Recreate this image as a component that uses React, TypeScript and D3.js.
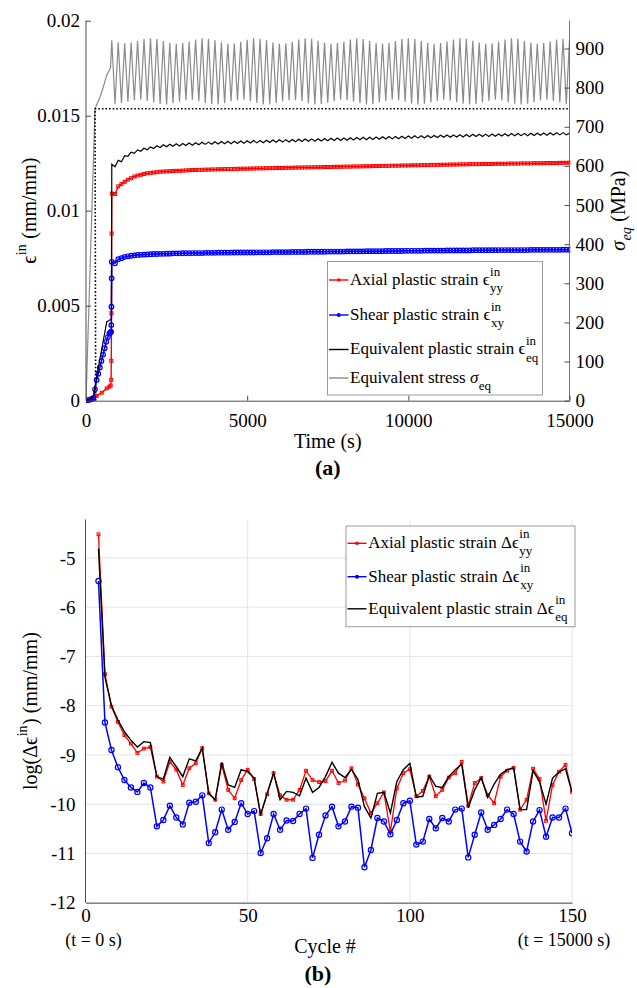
import React, { useEffect, useRef } from "react";
import * as d3 from "d3";

const FONT = "'Liberation Serif','DejaVu Serif','Noto Serif','Times New Roman',serif";

// ---------- (a) top chart data ----------
const timeTicks = [0, 5000, 10000, 15000];
const strainTicks = [0, 0.005, 0.01, 0.015, 0.02];
const strainTickLabels = ["0", "0.005", "0.01", "0.015", "0.02"];
const stressTicks = [0, 100, 200, 300, 400, 500, 600, 700, 800, 900];

// initial loading phase (time in s, strain in 1e-3 mm/mm)
const earlyAxialTime = [0, 100, 230, 330, 488, 643, 726, 766, 780, 785, 790, 795];
const earlyAxialMilli = [0, 0.02, 0.13, 0.25, 0.42, 0.65, 0.74, 0.8, 1.1, 2.1, 4.6, 8.8];
const earlyShearTime = [0, 60, 120, 180, 230, 280, 330, 380, 430, 480, 530, 580, 630, 680, 726, 760, 778, 785, 790, 795];
const earlyShearMilli = [0, 0.02, 0.05, 0.09, 0.15, 0.6, 1.09, 1.42, 1.75, 2.09, 2.43, 2.76, 3.1, 3.35, 3.54, 3.6, 3.63, 3.98, 4.95, 6.44];
const earlyEqTime = [0, 100, 200, 230, 330, 435, 540, 645, 700, 750, 790];
const earlyEqMilli = [0, 0.05, 0.15, 0.25, 1.26, 2.23, 3.19, 4.16, 4.21, 4.26, 4.3];
const earlyStressTime = [0, 280, 435, 539, 643, 726, 760];
const earlyStressMPa = [0, 746, 776, 802, 832, 845, 850];

// cyclic phase, one sample every 100 s from 800 s to 15000 s
const mainAxialMilli = [
  10.90, 10.88, 11.28, 11.40, 11.52, 11.63, 11.71, 11.80, 11.85, 11.89,
  11.93, 11.97, 11.99, 12.01, 12.03, 12.05, 12.06, 12.07, 12.08, 12.09,
  12.10, 12.10, 12.11, 12.12, 12.13, 12.14, 12.14, 12.15, 12.15, 12.16,
  12.16, 12.17, 12.17, 12.18, 12.18, 12.19, 12.19, 12.19, 12.20, 12.20,
  12.21, 12.21, 12.21, 12.22, 12.22, 12.23, 12.23, 12.23, 12.24, 12.24,
  12.24, 12.25, 12.25, 12.25, 12.26, 12.26, 12.26, 12.27, 12.27, 12.27,
  12.28, 12.28, 12.28, 12.29, 12.29, 12.29, 12.30, 12.30, 12.30, 12.31,
  12.31, 12.31, 12.32, 12.32, 12.32, 12.33, 12.33, 12.33, 12.34, 12.34,
  12.34, 12.35, 12.35, 12.35, 12.36, 12.36, 12.36, 12.37, 12.37, 12.37,
  12.38, 12.38, 12.38, 12.39, 12.39, 12.39, 12.40, 12.40, 12.40, 12.41,
  12.41, 12.41, 12.42, 12.42, 12.42, 12.43, 12.43, 12.43, 12.44, 12.44,
  12.44, 12.45, 12.45, 12.45, 12.45, 12.46, 12.46, 12.46, 12.46, 12.47,
  12.47, 12.47, 12.47, 12.48, 12.48, 12.48, 12.48, 12.49, 12.49, 12.49,
  12.49, 12.50, 12.50, 12.50, 12.50, 12.51, 12.51, 12.51, 12.51, 12.52,
  12.52, 12.52, 12.53,
];
const mainShearMilli = [
  7.31, 7.23, 7.45, 7.50, 7.57, 7.60, 7.63, 7.65, 7.67, 7.68,
  7.69, 7.70, 7.71, 7.72, 7.72, 7.73, 7.73, 7.74, 7.74, 7.75,
  7.75, 7.75, 7.76, 7.76, 7.76, 7.77, 7.77, 7.77, 7.77, 7.78,
  7.78, 7.78, 7.78, 7.79, 7.79, 7.79, 7.79, 7.79, 7.80, 7.80,
  7.80, 7.80, 7.80, 7.80, 7.80, 7.81, 7.81, 7.81, 7.81, 7.81,
  7.82, 7.82, 7.82, 7.82, 7.82, 7.82, 7.83, 7.83, 7.83, 7.83,
  7.83, 7.84, 7.84, 7.84, 7.84, 7.84, 7.84, 7.85, 7.85, 7.85,
  7.85, 7.85, 7.85, 7.86, 7.86, 7.86, 7.86, 7.86, 7.86, 7.87,
  7.87, 7.87, 7.87, 7.87, 7.87, 7.88, 7.88, 7.88, 7.88, 7.88,
  7.88, 7.89, 7.89, 7.89, 7.89, 7.89, 7.89, 7.90, 7.90, 7.90,
  7.90, 7.90, 7.90, 7.90, 7.91, 7.91, 7.91, 7.91, 7.91, 7.91,
  7.91, 7.91, 7.92, 7.92, 7.92, 7.92, 7.92, 7.92, 7.92, 7.92,
  7.93, 7.93, 7.93, 7.93, 7.93, 7.93, 7.93, 7.93, 7.93, 7.93,
  7.94, 7.94, 7.94, 7.94, 7.94, 7.94, 7.94, 7.94, 7.94, 7.94,
  7.95, 7.95, 7.95,
];
const mainEqMilli = [
  12.45, 12.31, 12.65, 12.58, 12.90, 12.86, 13.08, 13.02, 13.20, 13.13,
  13.29, 13.21, 13.36, 13.27, 13.42, 13.33, 13.47, 13.37, 13.50, 13.39,
  13.52, 13.41, 13.54, 13.43, 13.56, 13.45, 13.58, 13.47, 13.60, 13.49,
  13.61, 13.50, 13.63, 13.51, 13.64, 13.52, 13.65, 13.53, 13.66, 13.54,
  13.67, 13.55, 13.68, 13.56, 13.69, 13.57, 13.70, 13.58, 13.71, 13.59,
  13.72, 13.60, 13.73, 13.61, 13.74, 13.62, 13.75, 13.63, 13.76, 13.64,
  13.77, 13.65, 13.78, 13.66, 13.79, 13.67, 13.80, 13.68, 13.81, 13.69,
  13.82, 13.70, 13.83, 13.71, 13.84, 13.72, 13.85, 13.73, 13.86, 13.74,
  13.87, 13.75, 13.88, 13.76, 13.89, 13.77, 13.90, 13.78, 13.91, 13.79,
  13.92, 13.80, 13.93, 13.81, 13.94, 13.82, 13.95, 13.83, 13.96, 13.84,
  13.96, 13.85, 13.97, 13.86, 13.98, 13.87, 13.99, 13.88, 14.00, 13.88,
  14.01, 13.89, 14.02, 13.90, 14.02, 13.91, 14.03, 13.91, 14.04, 13.92,
  14.04, 13.93, 14.05, 13.93, 14.06, 13.94, 14.06, 13.95, 14.07, 13.95,
  14.08, 13.96, 14.08, 13.97, 14.09, 13.97, 14.10, 13.98, 14.10, 13.99,
  14.11, 13.99, 14.08,
];
// equivalent stress: alternating maxima / minima (MPa)
const stressPeaks = [
  921, 916, 913, 915, 919, 924, 926, 924, 919, 914,
  912, 914, 918, 923, 926, 925, 921, 916, 912, 913,
  917, 922, 926, 925, 921, 915, 912, 913, 917, 923,
  926, 925, 920, 915, 912, 914, 918, 923, 926, 924,
  919, 914, 912, 914, 919, 924, 926, 924, 919, 914,
  912, 914, 918, 923, 926, 925, 920, 915, 912, 913,
  918, 923, 926, 925, 920, 915, 912, 914, 918, 923,
  925, 922,
];
const stressTroughs = [
  758, 760, 764, 768, 769, 766, 762, 758, 757, 760,
  764, 768, 769, 766, 761, 758, 757, 760, 765, 768,
  769, 765, 761, 757, 757, 761, 765, 768, 768, 765,
  760, 757, 758, 761, 765, 769, 768, 764, 760, 757,
  758, 762, 766, 769, 768, 764, 759, 757, 758, 762,
  766, 769, 767, 763, 759, 757, 758, 762, 766, 769,
  767, 763, 759, 757, 759, 763, 767, 769, 766, 762,
  758,
];
const yieldTime = [300, 280, 15000];
const yieldStress = [0, 746, 746];

// ---------- (b) bottom chart data ----------
const cycleTicks = [0, 50, 100, 150];
const logTicks = [-12, -11, -10, -9, -8, -7, -6, -5];
const cycles = d3.range(4, 151, 2);
const dAxial = [
  -4.52, -7.36, -8.02, -8.33, -8.60, -8.77, -8.96, -8.87, -8.84,
  -9.44, -9.54, -9.14, -9.30, -9.61, -9.27, -9.17, -8.86, -9.78, -9.91,
  -9.20, -9.71, -9.88, -9.51, -9.30, -9.49, -10.20, -9.80, -9.37, -9.82,
  -9.91, -9.91, -9.71, -9.32, -9.51, -9.55, -9.53, -9.32, -9.57, -9.52,
  -9.27, -9.60, -9.88, -10.18, -9.98, -9.76, -10.55, -9.68, -9.37, -9.29,
  -9.84, -9.73, -9.44, -9.84, -9.71, -9.46, -9.37, -9.14, -10.03, -9.57,
  -9.47, -9.81, -9.98, -9.44, -9.32, -9.26, -10.11, -9.91, -9.28, -9.49,
  -10.34, -9.61, -9.34, -9.20, -9.75,
];
const dShear = [
  -5.47, -8.34, -8.90, -9.25, -9.51, -9.66, -9.75, -9.57, -9.66,
  -10.45, -10.32, -10.03, -10.27, -10.41, -9.97, -9.95, -9.82, -10.79, -10.57,
  -10.11, -10.52, -10.36, -9.98, -10.20, -10.14, -10.99, -10.69, -10.20, -10.52,
  -10.33, -10.34, -10.20, -10.09, -11.09, -10.62, -10.23, -10.05, -10.45, -10.35,
  -10.05, -10.07, -11.28, -10.93, -10.28, -10.35, -10.61, -10.32, -9.98, -9.93,
  -10.82, -10.76, -10.30, -10.49, -10.28, -10.35, -10.11, -10.09, -11.08, -10.62,
  -10.17, -10.52, -10.42, -10.30, -10.11, -10.20, -10.76, -10.96, -10.35, -10.12,
  -10.66, -10.27, -10.27, -10.09, -10.59,
];
const dEq = [
  -4.81, -7.42, -8.00, -8.29, -8.53, -8.70, -8.84, -8.73, -8.75,
  -9.44, -9.49, -9.05, -9.24, -9.44, -9.08, -9.12, -8.86, -9.78, -9.91,
  -9.15, -9.61, -9.66, -9.30, -9.34, -9.47, -10.22, -9.78, -9.37, -9.91,
  -9.74, -9.76, -9.83, -9.47, -9.76, -9.66, -9.44, -9.15, -9.37, -9.46,
  -9.29, -9.50, -10.05, -10.28, -9.78, -9.76, -10.18, -9.54, -9.30, -9.17,
  -9.86, -9.84, -9.42, -9.64, -9.66, -9.44, -9.30, -9.19, -10.07, -9.71,
  -9.46, -9.86, -9.59, -9.39, -9.30, -9.26, -10.11, -10.11, -9.32, -9.55,
  -10.00, -9.47, -9.35, -9.28, -9.76,
];

type Seg = { t: string; it?: boolean };

function rich(
  parent: any,
  x: number,
  y: number,
  o: {
    base: Seg[];
    sup?: string;
    sub?: string;
    tail?: Seg[];
    size: number;
    small: number;
    anchor?: "start" | "middle";
    rotate?: number;
    subItalic?: boolean;
    supDy?: number;
    subDy?: number;
  }
) {
  const g = parent.append("g").attr("transform", `translate(${x},${y}) rotate(${o.rotate ?? 0})`);
  const inner = g.append("g");
  const mk = (segs: Seg[], xx: number) => {
    const t = inner
      .append("text")
      .attr("x", xx)
      .attr("y", 0)
      .attr("font-size", o.size)
      .attr("fill", "#000")
      .style("font-family", FONT)
      .style("white-space", "pre");
    segs.forEach((s) => t.append("tspan").attr("font-style", s.it ? "italic" : "normal").text(s.t));
    return (t.node() as SVGTextElement).getComputedTextLength();
  };
  let w = mk(o.base, 0);
  let ws = 0;
  if (o.sup) {
    const s = inner
      .append("text")
      .attr("x", w + 0.5)
      .attr("y", -(o.supDy ?? o.size * 0.5))
      .attr("font-size", o.small)
      .style("font-family", FONT)
      .text(o.sup);
    ws = Math.max(ws, (s.node() as SVGTextElement).getComputedTextLength());
  }
  if (o.sub) {
    const s = inner
      .append("text")
      .attr("x", w + 0.5)
      .attr("y", o.subDy ?? o.size * 0.42)
      .attr("font-size", o.small)
      .style("font-family", FONT)
      .attr("font-style", o.subItalic ? "italic" : "normal")
      .text(o.sub);
    ws = Math.max(ws, (s.node() as SVGTextElement).getComputedTextLength());
  }
  if (ws) w += ws + 1;
  if (o.tail) w += mk(o.tail, w);
  if (o.anchor === "middle") inner.attr("transform", `translate(${-w / 2},0)`);
}

function styleAxis(g: any) {
  g.attr("font-size", 19).attr("font-family", null).style("font-family", FONT);
  g.selectAll("path.domain").attr("stroke", "#3a3a3a").attr("stroke-width", 0.9);
  g.selectAll(".tick line").attr("stroke", "#3a3a3a").attr("stroke-width", 0.9);
  g.selectAll(".tick text").attr("fill", "#000").style("font-family", FONT);
}

function plainText(parent: any, x: number, y: number, s: string, size: number, bold = false) {
  return parent
    .append("text")
    .attr("x", x)
    .attr("y", y)
    .attr("text-anchor", "middle")
    .attr("font-size", size)
    .attr("font-weight", bold ? "bold" : "normal")
    .style("font-family", FONT)
    .style("white-space", "pre")
    .text(s);
}

function draw(el: SVGSVGElement) {
  const svg = d3.select(el);
  svg.selectAll("*").remove();
  svg.style("font-family", FONT);
  svg.append("rect").attr("width", 637).attr("height", 988).attr("fill", "#fff");
  const defs = svg.append("defs");

  // ================= (a) =================
  const L = 86, R = 569.5, T = 20.7, B = 400.7;
  const xT = d3.scaleLinear().domain([0, 15000]).range([L, R]);
  const yL = d3.scaleLinear().domain([0, 0.02]).range([B, T]);
  const yR = d3.scaleLinear().domain([0, 971]).range([B, T]);
  defs.append("clipPath").attr("id", "clipA").append("rect")
    .attr("x", L).attr("y", T - 2).attr("width", R - L + 1).attr("height", B - T + 4);

  const mainTime = d3.range(800, 15001, 100);
  const axialPts: [number, number][] = [
    ...earlyAxialTime.map((t, i) => [t, earlyAxialMilli[i] / 1000] as [number, number]),
    ...mainTime.map((t, i) => [t, mainAxialMilli[i] / 1000] as [number, number]),
  ];
  const shearPts: [number, number][] = [
    ...earlyShearTime.map((t, i) => [t, earlyShearMilli[i] / 1000] as [number, number]),
    ...mainTime.map((t, i) => [t, mainShearMilli[i] / 1000] as [number, number]),
  ];
  const eqPts: [number, number][] = [
    ...earlyEqTime.map((t, i) => [t, earlyEqMilli[i] / 1000] as [number, number]),
    ...mainTime.map((t, i) => [t, mainEqMilli[i] / 1000] as [number, number]),
  ];
  const stressPts: [number, number][] = earlyStressTime.map((t, i) => [t, earlyStressMPa[i]] as [number, number]);
  stressPeaks.forEach((p, k) => {
    stressPts.push([mainTime[2 * k], p]);
    if (k < stressTroughs.length) stressPts.push([mainTime[2 * k + 1], stressTroughs[k]]);
  });
  const yieldPts: [number, number][] = yieldTime.map((t, i) => [t, yieldStress[i]]);

  const lineL = d3.line<[number, number]>().x((d) => xT(d[0])).y((d) => yL(d[1]));
  const lineR = d3.line<[number, number]>().x((d) => xT(d[0])).y((d) => yR(d[1]));

  const pa = svg.append("g").attr("clip-path", "url(#clipA)");
  pa.append("path").attr("d", lineR(stressPts)!).attr("fill", "none").attr("stroke", "#8a8a8a").attr("stroke-width", 1.2);
  pa.append("path").attr("d", lineR(yieldPts)!).attr("fill", "none").attr("stroke", "#000").attr("stroke-width", 1.6).attr("stroke-dasharray", "1.6,2");

  pa.append("path").attr("d", lineL(axialPts)!).attr("fill", "none").attr("stroke", "#ff0000").attr("stroke-width", 1.4);
  pa.selectAll("rect.ax").data(axialPts).enter().append("rect")
    .attr("x", (d) => xT(d[0]) - 1.5).attr("y", (d) => yL(d[1]) - 1.5)
    .attr("width", 3).attr("height", 3).attr("fill", "none").attr("stroke", "#ff0000").attr("stroke-width", 1);

  pa.append("path").attr("d", lineL(shearPts)!).attr("fill", "none").attr("stroke", "#0000ff").attr("stroke-width", 1.5);
  pa.selectAll("circle.sh").data(shearPts).enter().append("circle")
    .attr("cx", (d) => xT(d[0])).attr("cy", (d) => yL(d[1])).attr("r", 2.3)
    .attr("fill", "none").attr("stroke", "#0000ff").attr("stroke-width", 1.2);

  pa.append("path").attr("d", lineL(eqPts)!).attr("fill", "none").attr("stroke", "#000").attr("stroke-width", 1.2);

  const axL = svg.append("g").attr("transform", `translate(${L},0)`)
    .call(d3.axisLeft(yL).tickValues(strainTicks).tickFormat((d, i) => strainTickLabels[i]).tickSizeInner(-5).tickSizeOuter(0).tickPadding(6) as any);
  styleAxis(axL);
  axL.select("path.domain").attr("d", `M0,${T}V${B}`);
  const axR = svg.append("g").attr("transform", `translate(${R},0)`)
    .call(d3.axisRight(yR).tickValues(stressTicks).tickFormat((d) => String(d)).tickSizeInner(-5).tickSizeOuter(0).tickPadding(6) as any);
  styleAxis(axR);
  axR.select("path.domain").attr("d", `M0,${T}V${B}`).attr("stroke", "#6a6a6a");
  const axB = svg.append("g").attr("transform", `translate(0,${B})`)
    .call(d3.axisBottom(xT).tickValues(timeTicks).tickFormat((d) => String(d)).tickSizeInner(-5).tickSizeOuter(0).tickPadding(13) as any);
  styleAxis(axB);

  plainText(svg, (L + R) / 2, 448, "Time (s)", 20);
  plainText(svg, (L + R) / 2, 475, "(a)", 22, true);

  rich(svg, 36, (T + B) / 2, { base: [{ t: "ϵ" }], sup: "in", tail: [{ t: " (mm/mm)" }], size: 20, small: 14, anchor: "middle", rotate: -90 });
  rich(svg, 625, (T + B) / 2, { base: [{ t: "σ", it: true }], sub: "eq", subItalic: true, tail: [{ t: " (MPa)" }], size: 20, small: 14, anchor: "middle", rotate: -90, subDy: 6 });

  // legend (a)
  const lgA = svg.append("g");
  lgA.append("rect").attr("x", 327.5).attr("y", 261.5).attr("width", 215).attr("height", 133.5)
    .attr("fill", "#fff").attr("stroke", "#9a9a9a").attr("stroke-width", 1);
  const lx0 = 329, lx1 = 348.5, ltx = 350;
  const rowsA = [
    { y: 280, base: "Axial plastic strain ϵ", sup: "in", sub: "yy", color: "#ff0000", mark: "sq" },
    { y: 315, base: "Shear plastic strain ϵ", sup: "in", sub: "xy", color: "#0000ff", mark: "ci" },
    { y: 349.5, base: "Equivalent plastic strain ϵ", sup: "in", sub: "eq", color: "#000", mark: "" },
  ];
  rowsA.forEach((r) => {
    lgA.append("line").attr("x1", lx0).attr("x2", lx1).attr("y1", r.y).attr("y2", r.y).attr("stroke", r.color).attr("stroke-width", 1.4);
    if (r.mark === "sq") lgA.append("rect").attr("x", (lx0 + lx1) / 2 - 1.5).attr("y", r.y - 1.5).attr("width", 3).attr("height", 3).attr("fill", r.color);
    if (r.mark === "ci") lgA.append("circle").attr("cx", (lx0 + lx1) / 2).attr("cy", r.y).attr("r", 2).attr("fill", r.color);
    rich(lgA, ltx, r.y + 4.5, { base: [{ t: r.base }], sup: r.sup, sub: r.sub, size: 17, small: 13, supDy: 9, subDy: 7.5 });
  });
  lgA.append("line").attr("x1", lx0).attr("x2", lx1).attr("y1", 378).attr("y2", 378).attr("stroke", "#8a8a8a").attr("stroke-width", 1.4);
  rich(lgA, ltx, 382.5, { base: [{ t: "Equivalent stress " }, { t: "σ", it: true }], sub: "eq", size: 17, small: 13, subDy: 7.5 });

  // ================= (b) =================
  const L2 = 85.5, R2 = 572, T2 = 519.5, B2 = 902.7;
  const xB = d3.scaleLinear().domain([0, 150]).range([L2, R2]);
  const yB = d3.scaleLinear().domain([-12, -4.22]).range([B2, T2]);
  defs.append("clipPath").attr("id", "clipB").append("rect")
    .attr("x", L2).attr("y", T2).attr("width", R2 - L2).attr("height", B2 - T2);

  const grid = svg.append("g");
  cycleTicks.forEach((c) => grid.append("line").attr("x1", xB(c)).attr("x2", xB(c)).attr("y1", T2).attr("y2", B2).attr("stroke", "#e4e4e4").attr("stroke-width", 1));
  logTicks.forEach((v) => grid.append("line").attr("x1", L2).attr("x2", R2).attr("y1", yB(v)).attr("y2", yB(v)).attr("stroke", "#e4e4e4").attr("stroke-width", 1));

  const lineB = d3.line<number>().x((d, i) => xB(cycles[i])).y((d) => yB(d));
  const pb = svg.append("g").attr("clip-path", "url(#clipB)");
  pb.append("path").attr("d", lineB(dAxial)!).attr("fill", "none").attr("stroke", "#ff0000").attr("stroke-width", 1.3);
  pb.selectAll("rect.da").data(dAxial).enter().append("rect")
    .attr("x", (d, i) => xB(cycles[i]) - 1.4).attr("y", (d) => yB(d) - 1.4)
    .attr("width", 2.8).attr("height", 2.8).attr("fill", "none").attr("stroke", "#ff0000").attr("stroke-width", 1);
  pb.append("path").attr("d", lineB(dShear)!).attr("fill", "none").attr("stroke", "#0000ff").attr("stroke-width", 1.5);
  pb.selectAll("circle.ds").data(dShear).enter().append("circle")
    .attr("cx", (d, i) => xB(cycles[i])).attr("cy", (d) => yB(d)).attr("r", 2.6)
    .attr("fill", "none").attr("stroke", "#0000ff").attr("stroke-width", 1.2);
  pb.append("path").attr("d", lineB(dEq)!).attr("fill", "none").attr("stroke", "#000").attr("stroke-width", 1.4);

  const axL2 = svg.append("g").attr("transform", `translate(${L2},0)`)
    .call(d3.axisLeft(yB).tickValues(logTicks).tickFormat((d) => String(d)).tickSizeInner(0).tickSizeOuter(0).tickPadding(10) as any);
  styleAxis(axL2);
  axL2.select("path.domain").attr("d", `M0,${T2}V${B2}`);
  const axB2 = svg.append("g").attr("transform", `translate(0,${B2})`)
    .call(d3.axisBottom(xB).tickValues(cycleTicks).tickFormat((d) => String(d)).tickSizeInner(0).tickSizeOuter(0).tickPadding(6) as any);
  styleAxis(axB2);

  plainText(svg, xB(0) + 8, 946, "(t = 0 s)", 18);
  plainText(svg, xB(150) - 8, 946, "(t = 15000 s)", 18);
  plainText(svg, 325, 953, "Cycle #", 20);
  plainText(svg, 318, 981, "(b)", 22, true);

  rich(svg, 37, (T2 + B2) / 2, { base: [{ t: "log(Δϵ" }], sup: "in", tail: [{ t: ") (mm/mm)" }], size: 20, small: 14, anchor: "middle", rotate: -90 });

  // legend (b)
  const lgB = svg.append("g");
  lgB.append("rect").attr("x", 346).attr("y", 526).attr("width", 229).attr("height", 100.7)
    .attr("fill", "#fff").attr("stroke", "#9a9a9a").attr("stroke-width", 1);
  const bx0 = 347.5, bx1 = 366.5, btx = 368.3;
  const rowsB = [
    { y: 543.3, base: "Axial plastic strain Δϵ", sub: "yy", color: "#ff0000", mark: "sq" },
    { y: 576.7, base: "Shear plastic strain Δϵ", sub: "xy", color: "#0000ff", mark: "ci" },
    { y: 608.8, base: "Equivalent plastic strain Δϵ", sub: "eq", color: "#000", mark: "" },
  ];
  rowsB.forEach((r) => {
    lgB.append("line").attr("x1", bx0).attr("x2", bx1).attr("y1", r.y).attr("y2", r.y).attr("stroke", r.color).attr("stroke-width", 1.4);
    if (r.mark === "sq") lgB.append("rect").attr("x", (bx0 + bx1) / 2 - 1.5).attr("y", r.y - 1.5).attr("width", 3).attr("height", 3).attr("fill", r.color);
    if (r.mark === "ci") lgB.append("circle").attr("cx", (bx0 + bx1) / 2).attr("cy", r.y).attr("r", 2).attr("fill", r.color);
    rich(lgB, btx, r.y + 5, { base: [{ t: r.base }], sup: "in", sub: r.sub, size: 17, small: 13, supDy: 10, subDy: 7 });
  });
}

export default function App() {
  const ref = useRef<SVGSVGElement>(null);
  useEffect(() => {
    if (ref.current) draw(ref.current);
  }, []);
  return (
    <svg
      ref={ref}
      width={637}
      height={988}
      style={{ position: "absolute", left: 0, top: 0, display: "block", background: "#fff" }}
    />
  );
}
